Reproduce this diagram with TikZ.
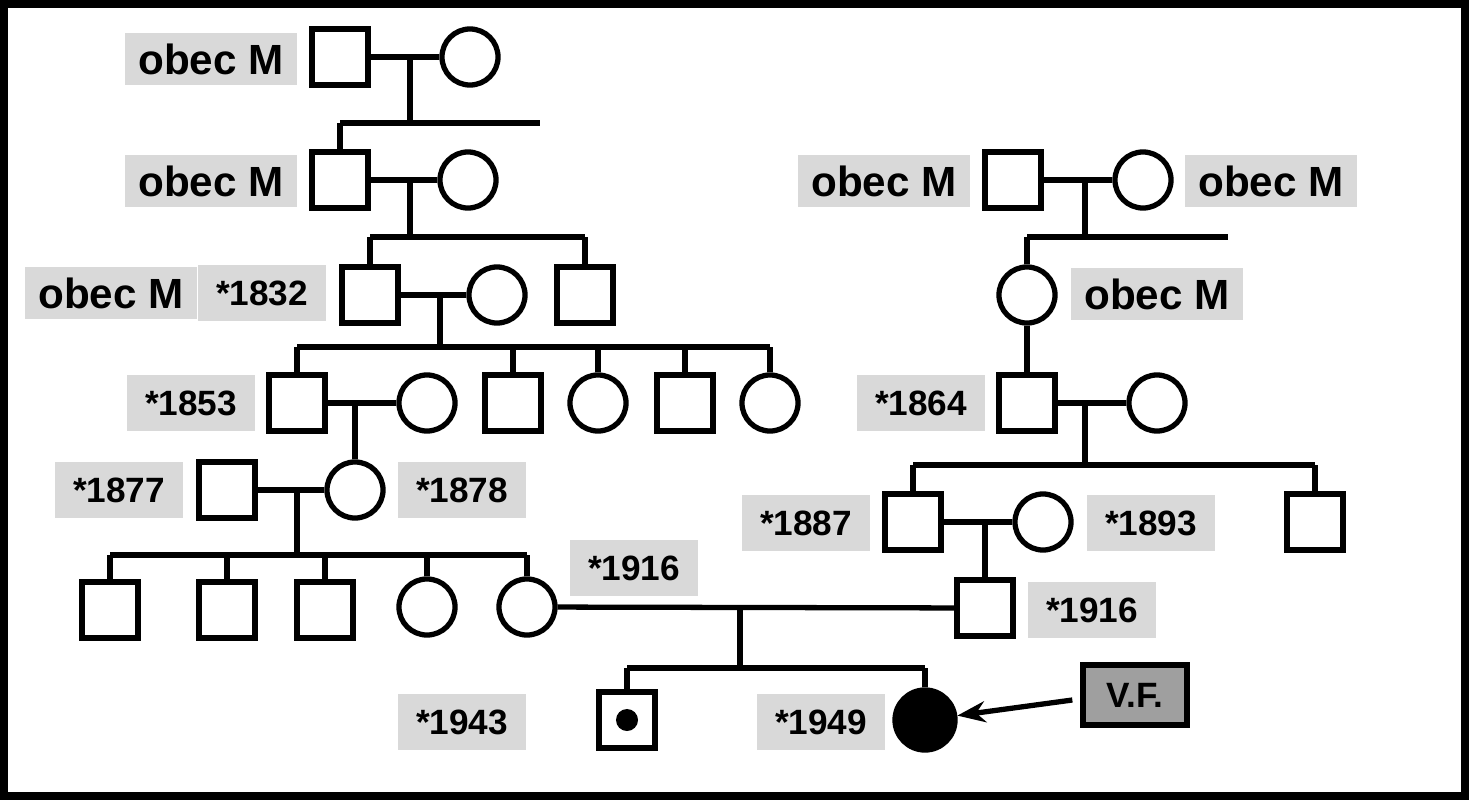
\documentclass[tikz,border=0pt]{standalone}
\usepackage{fontspec}
\setmainfont{Liberation Sans}
\usetikzlibrary{arrows.meta}
\begin{document}
\begin{tikzpicture}[x=0.01cm,y=-0.01cm,line width=1.5pt,
  male/.style={draw,minimum size=0.56cm,inner sep=0pt},
  female/.style={draw,circle,minimum size=0.56cm,inner sep=0pt},
  tag/.style={fill=gray!30,font=\bfseries\fontsize{12}{12}\selectfont,minimum height=0.52cm,minimum width=1.72cm,inner sep=0pt},
  year/.style={fill=gray!30,font=\bfseries\fontsize{10}{10}\selectfont,minimum height=0.55cm,minimum width=1.28cm,inner sep=0pt}]
\useasboundingbox (0,0) rectangle (1469,800);
\draw[line width=3pt] (3,3) rectangle (1466,797);
% left family
\node[male] (a1) at (340,57) {};
\node[female] (a2) at (470,57) {};
\node[tag] (ta1) at (211,59) {obec M};
\node[male] (b1) at (340,180) {};
\node[female] (b2) at (468,180) {};
\node[tag] (tb1) at (211,181) {obec M};
\node[male] (c1) at (370,295) {};
\node[female] (c2) at (497,295) {};
\node[male] (c3) at (585,295) {};
\node[tag] (tc1) at (111,293) {obec M};
\node[year] (yc1) at (262,293) {*1832};
\node[male] (d1) at (297,403) {};
\node[female] (d2) at (427,403) {};
\node[male] (d3) at (513,403) {};
\node[female] (d4) at (598,403) {};
\node[male] (d5) at (685,403) {};
\node[female] (d6) at (770,403) {};
\node[year] (yd1) at (191,403) {*1853};
\node[male] (e1) at (227,490) {};
\node[female] (e2) at (355,490) {};
\node[year] (ye1) at (119,490) {*1877};
\node[year] (ye2) at (462,490) {*1878};
\node[male] (f1) at (110,610) {};
\node[male] (f2) at (227,610) {};
\node[male] (f3) at (325,610) {};
\node[female] (f4) at (427,607) {};
\node[female] (f5) at (527,607) {};
\node[year] (yf5) at (634,568) {*1916};
% right family
\node[male] (p1) at (1013,180) {};
\node[female] (p2) at (1143,180) {};
\node[tag] (tp1) at (884,181) {obec M};
\node[tag] (tp2) at (1271,181) {obec M};
\node[female] (q1) at (1027,295) {};
\node[tag] (tq1) at (1157,294) {obec M};
\node[male] (r1) at (1027,403) {};
\node[female] (r2) at (1157,403) {};
\node[year] (yr1) at (921,403) {*1864};
\node[male] (s1) at (913,522) {};
\node[female] (s2) at (1043,522) {};
\node[male] (s3) at (1315,522) {};
\node[year] (ys1) at (806,523) {*1887};
\node[year] (ys2) at (1151,523) {*1893};
\node[male] (t1) at (985,608) {};
\node[year] (yt1) at (1092,610) {*1916};
% children
\node[male] (g1) at (627,720) {};
\node[circle,fill,inner sep=0pt,minimum size=0.22cm] (g1dot) at (g1) {};
\node[female,fill,minimum size=0.6cm] (g2) at (925,720) {};
\node[year] (yg1) at (462,722) {*1943};
\node[year] (yg2) at (821,722) {*1949};
\node[draw,fill=gray!75,minimum width=1.04cm,minimum height=0.6cm,font=\bfseries\fontsize{10}{10}\selectfont] (vf) at (1135,695) {V.F.};
% couples and sibships
\draw (a1) -- (a2);
\draw (410,57) -- (410,123);
\draw (b1 |- 0,123) -- (540,123);
\draw (b1) -- (b1 |- 0,123);
\draw (b1) -- (b2);
\draw (410,180) -- (410,237);
\draw (c1 |- 0,237) -- (c3 |- 0,237);
\foreach \n in {c1,c3} \draw (\n) -- (\n |- 0,237);
\draw (c1) -- (c2);
\draw (440,295) -- (440,347);
\draw (d1 |- 0,347) -- (d6 |- 0,347);
\foreach \n in {d1,d3,d4,d5,d6} \draw (\n) -- (\n |- 0,347);
\draw (d1) -- (d2);
\draw (355,403) -- (e2);
\draw (e1) -- (e2);
\draw (297,490) -- (297,555);
\draw (f1 |- 0,555) -- (f5 |- 0,555);
\foreach \n in {f1,f2,f3,f4,f5} \draw (\n) -- (\n |- 0,555);
\draw (p1) -- (p2);
\draw (1085,180) -- (1085,237);
\draw (q1 |- 0,237) -- (1228,237);
\draw (q1) -- (q1 |- 0,237);
\draw (q1) -- (r1);
\draw (r1) -- (r2);
\draw (1085,403) -- (1085,465);
\draw (s1 |- 0,465) -- (s3 |- 0,465);
\foreach \n in {s1,s3} \draw (\n) -- (\n |- 0,465);
\draw (s1) -- (s2);
\draw (985,522) -- (t1);
\draw (f5) -- (t1);
\draw (740,607) -- (740,668);
\draw (g1 |- 0,668) -- (g2 |- 0,668);
\foreach \n in {g1,g2} \draw (\n) -- (\n |- 0,668);
\draw[-{Stealth[length=8pt]}] (vf.west) ++(-8,5) -- (g2);
\end{tikzpicture}
\end{document}
